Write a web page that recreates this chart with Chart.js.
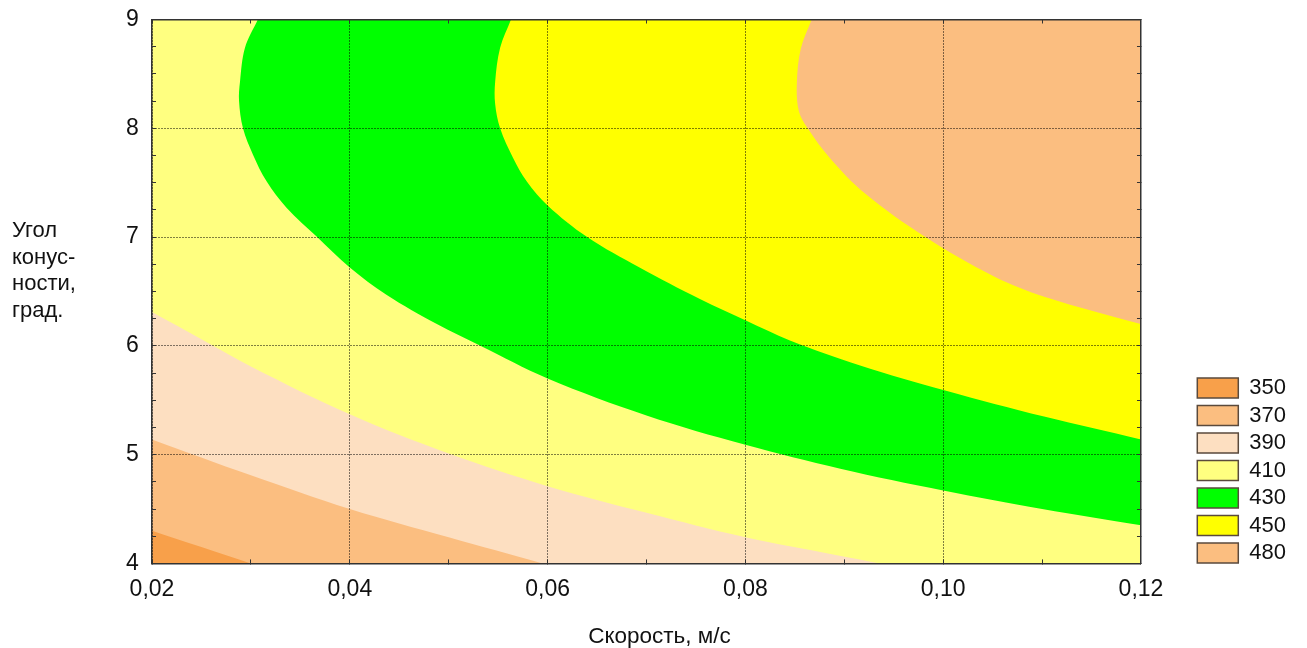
<!DOCTYPE html>
<html lang="ru">
<head>
<meta charset="utf-8">
<title>Угол конусности и скорость</title>
<script src="https://cdn.jsdelivr.net/npm/chart.js@4.4.1/dist/chart.umd.min.js"></script>
<style>
  html, body { margin: 0; padding: 0; background: #ffffff; }
  #wrap { position: relative; width: 1307px; height: 648px; }
  canvas { display: block; }
</style>
</head>
<body>
<div id="wrap"><canvas id="plot" width="1307" height="648"></canvas></div>
<script>
// Labelled ticks of both axes
const speedTicks = [0.02, 0.04, 0.06, 0.08, 0.10, 0.12];
const speedTickLabels = ['0,02', '0,04', '0,06', '0,08', '0,10', '0,12'];
const angleTicks = [4, 5, 6, 7, 8, 9];
const angleTickLabels = ['4', '5', '6', '7', '8', '9'];

// Axis captions
const speedCaption = 'Скорость, м/с';
const angleCaption = ['Угол', 'конус-', 'ности,', 'град.'];

// Legend levels and band colours
const levels = [350, 370, 390, 410, 430, 450, 480];
const bandColors = ['#F8A04A', '#FBBE80', '#FDDFC1', '#FFFF80', '#00FF00', '#FFFF00', '#FBBE80'];

// Isolines, listed from top to bottom: speed (m/s) and angle (deg)
// upper edge of the 350 band
const edge350Speed = [0.0200, 0.0250, 0.0300];
const edge350Angle = [4.30, 4.15, 4.00];
// upper edge of the 370 band
const edge370Speed = [0.0200, 0.0300, 0.0400, 0.0500, 0.0595];
const edge370Angle = [5.14, 4.81, 4.50, 4.24, 4.00];
// upper edge of the 390 band
const edge390Speed = [0.0200, 0.0250, 0.0300, 0.0400, 0.0500, 0.0600, 0.0700, 0.0800, 0.0890, 0.0936];
const edge390Angle = [6.31, 6.06, 5.81, 5.37, 5.01, 4.71, 4.465, 4.24, 4.08, 4.00];
// lower edge of the 430 band
const edge430Speed = [0.0307, 0.0294, 0.0289, 0.0288, 0.0292, 0.0302, 0.0316, 0.0336, 0.0367, 0.0400, 0.0437, 0.0488, 0.0532, 0.0600, 0.0700, 0.0800, 0.0896, 0.1000, 0.1100, 0.1200];
const edge430Angle = [9.00, 8.74, 8.43, 8.25, 8.00, 7.76, 7.51, 7.27, 7.00, 6.72, 6.47, 6.20, 6.00, 5.70, 5.36, 5.09, 4.87, 4.67, 4.50, 4.35];
// lower edge of the 450 band
const edge450Speed = [0.0563, 0.0552, 0.0547, 0.0547, 0.0552, 0.0565, 0.0579, 0.0600, 0.0640, 0.0693, 0.0754, 0.0801, 0.0845, 0.0916, 0.1002, 0.1102, 0.1200];
const edge450Angle = [9.00, 8.74, 8.43, 8.22, 8.00, 7.73, 7.51, 7.29, 7.00, 6.72, 6.43, 6.23, 6.05, 5.82, 5.59, 5.35, 5.14];
// lower edge of the 480 band
const edge480Speed = [0.0867, 0.0856, 0.0852, 0.0854, 0.0863, 0.0886, 0.0921, 0.0982, 0.1051, 0.1103, 0.1200];
const edge480Angle = [9.00, 8.73, 8.41, 8.16, 8.00, 7.72, 7.40, 7.00, 6.64, 6.45, 6.20];

const FONT = '"Liberation Sans", Arial, sans-serif';
const INK = '#111111';
const FRAME = '#333333';

const speedMin = speedTicks[0], speedMax = speedTicks[speedTicks.length - 1];

function isoline(speeds, angles) {
  return speeds.map((s, i) => ({ x: s, y: angles[i] }));
}

// labelled ticks plus evenly spaced unlabelled ones in between
function withMinor(major, parts) {
  const out = [];
  for (let i = 0; i < major.length - 1; i++) {
    for (let k = 0; k < parts; k++) out.push(major[i] + (major[i + 1] - major[i]) * k / parts);
  }
  out.push(major[major.length - 1]);
  return out.map(v => ({ value: v }));
}
function majorIndex(major, v) {
  return major.findIndex(t => Math.abs(t - v) < 1e-9);
}

// band between an isoline and the left or right border of the plot
function band(label, speeds, angles, color, toSpeed) {
  return {
    label,
    data: isoline(speeds, angles),
    backgroundColor: color,
    borderColor: 'rgba(0,0,0,0)',
    borderWidth: 0,
    pointRadius: 0,
    tension: 0.35,
    fill: { value: toSpeed }
  };
}

// later entries are painted first
const datasets = [
  band('350', edge350Speed, edge350Angle, bandColors[0], speedMin),
  band('370', edge370Speed, edge370Angle, bandColors[1], speedMin),
  band('390', edge390Speed, edge390Angle, bandColors[2], speedMin),
  band('480', edge480Speed, edge480Angle, bandColors[6], speedMax),
  band('450', edge450Speed, edge450Angle, bandColors[5], speedMax),
  band('430', edge430Speed, edge430Angle, bandColors[4], speedMax)
];

// the 410 band fills whatever the other bands leave
const plotBackground = {
  id: 'plotBackground',
  beforeDatasetsDraw(chart) {
    const { ctx, chartArea: a } = chart;
    ctx.save();
    ctx.fillStyle = bandColors[levels.indexOf(410)];
    ctx.fillRect(a.left, a.top, a.right - a.left, a.bottom - a.top);
    ctx.restore();
  }
};

// horizontal axis captions
const captions = {
  id: 'captions',
  afterDraw(chart) {
    const { ctx, chartArea: a } = chart;
    ctx.save();
    ctx.fillStyle = INK;
    ctx.textBaseline = 'alphabetic';
    ctx.textAlign = 'left';
    ctx.font = '22px ' + FONT;
    angleCaption.forEach((line, i) => ctx.fillText(line, 12, a.top + 217.5 + i * 26.5));
    ctx.textAlign = 'center';
    ctx.font = '22.5px ' + FONT;
    ctx.fillText(speedCaption, (a.left + a.right) / 2 + 13, a.bottom + 80);
    ctx.restore();
  }
};

const gridColor = (major) => (c) => (c.tick && majorIndex(major, c.tick.value) >= 0) ? '#000000' : 'rgba(0,0,0,0)';

function mainAxis(major, labels, parts, tickExtra, extra) {
  return Object.assign({
    type: 'linear',
    min: major[0],
    max: major[major.length - 1],
    afterBuildTicks: s => { s.ticks = withMinor(major, parts); },
    ticks: Object.assign({
      autoSkip: false, maxRotation: 0, minRotation: 0,
      color: INK, font: { family: FONT, size: 23 },
      callback: v => { const k = majorIndex(major, v); return k < 0 ? '' : labels[k]; }
    }, tickExtra),
    grid: { color: gridColor(major), lineWidth: 1, tickColor: FRAME, tickWidth: 1, tickLength: -4, z: 1 },
    border: { display: true, color: FRAME, width: 1.5, dash: [1, 2], z: 2 }
  }, extra);
}
function frameAxis(major, parts, extra) {
  return Object.assign({
    type: 'linear',
    min: major[0],
    max: major[major.length - 1],
    afterBuildTicks: s => { s.ticks = withMinor(major, parts); },
    ticks: { display: false },
    grid: { drawOnChartArea: false, tickColor: FRAME, tickWidth: 1, tickLength: -4, z: 1 },
    border: { display: true, color: FRAME, width: 1.5, z: 2 }
  }, extra);
}

const chart = new Chart(document.getElementById('plot'), {
  type: 'line',
  data: { datasets },
  options: {
    indexAxis: 'y',
    responsive: false,
    devicePixelRatio: 1,
    animation: false,
    events: [],
    layout: { padding: { left: 126, top: 19.5, right: 11, bottom: 29 } },
    scales: {
      x: mainAxis(speedTicks, speedTickLabels, 2, { padding: 16 }, { position: 'bottom' }),
      y: mainAxis(angleTicks, angleTickLabels, 4, { padding: 0, crossAlign: 'far' }, {
        position: 'left',
        afterFit: s => { s.width = 26; }
      }),
      x2: frameAxis(speedTicks, 2, { axis: 'x', position: 'top', afterFit: s => { s.height = 0; } }),
      y2: frameAxis(angleTicks, 4, { axis: 'y', position: 'right', afterFit: s => { s.width = 50.8; } })
    },
    plugins: {
      tooltip: { enabled: false },
      legend: {
        position: 'right',
        align: 'start',
        fullSize: true,
        onClick: null,
        // empty title only pushes the swatches down to the lower right
        title: { display: true, text: '', font: { size: 10 }, padding: { top: 340, bottom: 0 } },
        labels: {
          boxWidth: 41,
          boxHeight: 20,
          padding: 5.5,
          color: INK,
          font: { family: FONT, size: 22 },
          generateLabels: () => levels.map((lv, i) => ({
            text: String(lv),
            fillStyle: bandColors[i],
            strokeStyle: '#5a4a3c',
            lineWidth: 1.5,
            hidden: false,
            index: i,
            fontColor: INK
          }))
        }
      }
    }
  },
  plugins: [plotBackground, captions]
});
</script>
</body>
</html>
